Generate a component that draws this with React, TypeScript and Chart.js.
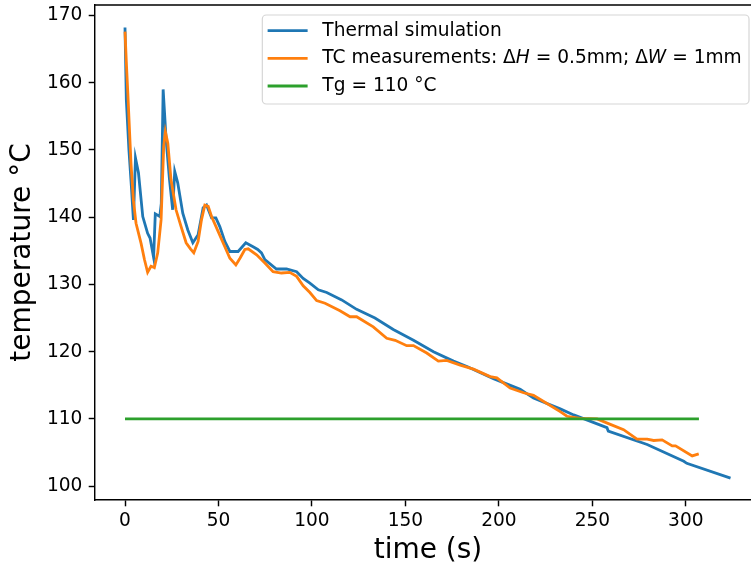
import React, { useEffect, useRef } from "react";
import { Chart, registerables } from "chart.js";

Chart.register(...registerables);

// ---- data ----
const timeSim = [0, 0.7, 2.1, 3.4, 4.5, 5.6, 7.2, 9.5, 12.1, 13.4, 15.3, 16.2, 18.6, 19.4, 20.4, 22, 23.8, 25.5, 26.6, 28.2, 30.9, 33.6, 36.3, 39.1, 41.8, 43.6, 46.3, 48.6, 50.7, 53.4, 56.1, 60.5, 64.6, 68.5, 71, 73, 74.8, 81, 86.4, 91.8, 95.3, 98.9, 103.4, 107.9, 115.9, 123.9, 133.7, 143.5, 154.3, 165, 175.7, 182.9, 197.1, 211.4, 218.5, 232.8, 240, 257.8, 258.5, 279.3, 298.9, 300.5, 323.9];
const tempSim = [168.2, 157.5, 150, 144.6, 139.6, 148.8, 146.6, 140.1, 137.6, 136.9, 134, 140.5, 140.1, 142, 159, 151.5, 145.6, 141.1, 146.8, 145.1, 140.6, 138.1, 136.2, 137.4, 141.4, 141.8, 139.9, 139.9, 138.6, 136.4, 134.9, 134.9, 136.2, 135.6, 135.2, 134.7, 133.7, 132.3, 132.3, 131.9, 130.9, 130.2, 129.2, 128.8, 127.7, 126.3, 125.0, 123.3, 121.7, 120.0, 118.6, 117.8, 116.0, 114.4, 113.1, 111.5, 110.6, 108.7, 108.2, 106.2, 103.7, 103.4, 101.2];

const timeTC = [0, 0.8, 1.5, 3.2, 4.5, 5.9, 8.6, 10.4, 12.1, 13.9, 15.7, 17.5, 19.3, 20.7, 21.6, 22.9, 24.6, 27.3, 30, 32.7, 35, 36.8, 39.1, 40.9, 42.7, 44.5, 46.3, 49.8, 53.4, 56.1, 59.3, 61.5, 64.1, 65.9, 70.4, 74.8, 79.2, 83.7, 88.1, 91.8, 95.3, 98.9, 102.5, 107, 115, 120.4, 123.9, 132.8, 140, 144.5, 150.7, 154.3, 161.4, 167.6, 172.1, 179.3, 186.4, 195.3, 198.9, 206, 213.2, 218.5, 225.7, 232.8, 236.4, 243.5, 252.5, 259.6, 266.7, 273.9, 279.3, 282.8, 287.3, 292.7, 294.5, 303.4, 306.9];
const tempTC = [167.6, 162.5, 158.5, 148, 142.5, 139.1, 136.1, 133.7, 131.8, 132.7, 132.5, 134.7, 139.6, 150.5, 152.7, 151, 145.6, 141.1, 138.6, 136.2, 135.3, 134.7, 136.4, 139.6, 141.8, 141.6, 140.1, 137.9, 135.6, 133.9, 132.9, 133.9, 135.2, 135.3, 134.4, 133.2, 131.9, 131.7, 131.8, 131.2, 129.8, 128.8, 127.6, 127.2, 126.1, 125.2, 125.2, 123.7, 122.0, 121.7, 120.9, 120.9, 119.8, 118.6, 118.7, 118.0, 117.4, 116.3, 116.1, 114.6, 113.9, 113.5, 112.3, 111.1, 110.4, 110.1, 110.0, 109.2, 108.4, 107.0, 107.0, 106.8, 106.9, 106.0, 106.0, 104.5, 104.8];

const timeTg = [0, 307];
const tempTg = [110, 110];

const seriesNames = [
  "Thermal simulation",
  "TC measurements: ΔH = 0.5mm; ΔW = 1mm",
  "Tg = 110 °C",
];
const seriesColors = ["#1f77b4", "#ff7f0e", "#2ca02c"];

const xTicks = [0, 50, 100, 150, 200, 250, 300];
const yTicks = [100, 110, 120, 130, 140, 150, 160, 170];
const xTitle = "time (s)";
const yTitle = "temperature °C";

const FONT = "'DejaVu Sans', sans-serif";

function splitItalic(text: string) {
  // letter right after Δ is rendered italic (math style)
  const segs: { t: string; it: boolean }[] = [];
  let buf = "";
  for (let i = 0; i < text.length; i++) {
    const ch = text[i];
    if (i > 0 && text[i - 1] === "Δ" && /[A-Za-z]/.test(ch)) {
      if (buf) segs.push({ t: buf, it: false });
      buf = "";
      segs.push({ t: ch, it: true });
    } else buf += ch;
  }
  if (buf) segs.push({ t: buf, it: false });
  return segs;
}

export default function App() {
  const ref = useRef<HTMLCanvasElement>(null);

  useEffect(() => {
    const canvas = ref.current!;
    const pts = (xs: number[], ys: number[]) => xs.map((x, i) => ({ x, y: ys[i] }));

    const framePlugin = {
      id: "mplFrame",
      afterDraw(chart: any) {
        const { ctx, chartArea } = chart;
        ctx.save();
        ctx.strokeStyle = "#000";
        ctx.lineWidth = 1.44;
        ctx.beginPath();
        ctx.moveTo(chartArea.left, chartArea.top);
        ctx.lineTo(chartArea.right, chartArea.top);
        ctx.lineTo(chartArea.right, chartArea.bottom);
        ctx.stroke();
        ctx.restore();
      },
    };

    const legendPlugin = {
      id: "mplLegend",
      afterDraw(chart: any) {
        const ctx = chart.ctx as CanvasRenderingContext2D;
        const size = 18.6;
        const normal = `${size}px ${FONT}`;
        const italic = `italic ${size}px ${FONT}`;
        ctx.save();
        const rows = seriesNames.map(splitItalic);
        const widths = rows.map((segs) =>
          segs.reduce((w, s) => {
            ctx.font = s.it ? italic : normal;
            return w + ctx.measureText(s.t).width;
          }, 0)
        );
        const textW = Math.max(...widths);
        const right = 749;
        const top = 15;
        const bottom = 104;
        const left = right - 7.3 - textW - 14.7 - 40 - 5.3;
        const r = 4;
        ctx.beginPath();
        ctx.moveTo(left + r, top);
        ctx.lineTo(right - r, top);
        ctx.arcTo(right, top, right, top + r, r);
        ctx.lineTo(right, bottom - r);
        ctx.arcTo(right, bottom, right - r, bottom, r);
        ctx.lineTo(left + r, bottom);
        ctx.arcTo(left, bottom, left, bottom - r, r);
        ctx.lineTo(left, top + r);
        ctx.arcTo(left, top, left + r, top, r);
        ctx.closePath();
        ctx.fillStyle = "rgba(255,255,255,0.8)";
        ctx.fill();
        ctx.strokeStyle = "#d6d6d6";
        ctx.lineWidth = 1.2;
        ctx.stroke();

        const rowY = [30.7, 58.3, 86];
        rows.forEach((segs, i) => {
          const y = rowY[i];
          ctx.strokeStyle = seriesColors[i];
          ctx.lineWidth = 2.8;
          ctx.beginPath();
          ctx.moveTo(left + 5.3, y);
          ctx.lineTo(left + 45.3, y);
          ctx.stroke();
          let x = left + 60;
          ctx.fillStyle = "#000";
          ctx.textBaseline = "middle";
          ctx.textAlign = "left";
          segs.forEach((s) => {
            ctx.font = s.it ? italic : normal;
            ctx.fillText(s.t, x, y);
            x += ctx.measureText(s.t).width;
          });
        });
        ctx.restore();
      },
    };

    const tickFont = { family: FONT, size: 18.6 };
    const titleFont = { family: FONT, size: 28 };

    const chart = new Chart(canvas, {
      type: "line",
      data: {
        datasets: [
          { label: seriesNames[0], data: pts(timeSim, tempSim), borderColor: seriesColors[0], backgroundColor: seriesColors[0], borderWidth: 2.8, pointRadius: 0, tension: 0, fill: false, order: 3 },
          { label: seriesNames[1], data: pts(timeTC, tempTC), borderColor: seriesColors[1], backgroundColor: seriesColors[1], borderWidth: 2.8, pointRadius: 0, tension: 0, fill: false, order: 2 },
          { label: seriesNames[2], data: pts(timeTg, tempTg), borderColor: seriesColors[2], backgroundColor: seriesColors[2], borderWidth: 2.8, pointRadius: 0, tension: 0, fill: false, order: 1 },
        ],
      },
      options: {
        animation: false,
        responsive: false,
        devicePixelRatio: 1,
        layout: { padding: { top: 5, left: 0, right: 1, bottom: 0 } },
        plugins: { legend: { display: false }, tooltip: { enabled: false } },
        scales: {
          x: {
            type: "linear",
            min: -16.05,
            max: 340.2,
            afterBuildTicks: (s: any) => {
              s.ticks = xTicks.map((v) => ({ value: v }));
            },
            afterFit: (s: any) => {
              s.height = 68;
              s.paddingLeft = 0;
              s.paddingRight = 0;
            },
            ticks: { font: tickFont, color: "#000", padding: 4.2, maxRotation: 0, autoSkip: false },
            grid: { drawOnChartArea: false, drawTicks: true, tickLength: 6.3, tickWidth: 1.44, tickColor: "#000" },
            border: { display: true, color: "#000", width: 1.44 },
            title: { display: true, text: xTitle, font: titleFont, color: "#000", padding: { top: 0, bottom: 0 } },
          },
          y: {
            type: "linear",
            min: 97.95,
            max: 171.55,
            afterBuildTicks: (s: any) => {
              s.ticks = yTicks.map((v) => ({ value: v }));
            },
            afterFit: (s: any) => {
              s.width = 95;
              s.paddingTop = 0;
              s.paddingBottom = 0;
            },
            ticks: { font: tickFont, color: "#000", padding: 6.3, autoSkip: false },
            grid: { drawOnChartArea: false, drawTicks: true, tickLength: 6.3, tickWidth: 1.44, tickColor: "#000" },
            border: { display: true, color: "#000", width: 1.44 },
            title: { display: true, text: yTitle, font: titleFont, color: "#000", padding: { top: 6, bottom: 0 } },
          },
        },
      },
      plugins: [framePlugin, legendPlugin],
    } as any);

    return () => chart.destroy();
  }, []);

  return (
    <div style={{ position: "absolute", left: 0, top: 0, width: 751, height: 568, overflow: "hidden", background: "#fff" }}>
      <canvas ref={ref} width={762} height={568} style={{ display: "block", width: 762, height: 568 }} />
    </div>
  );
}
